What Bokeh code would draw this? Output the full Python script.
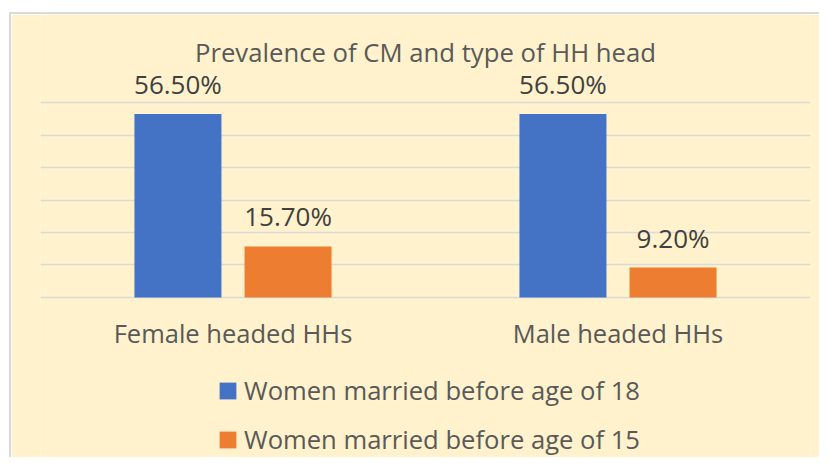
from bokeh.plotting import figure
from bokeh.models import FactorRange, Range1d, FixedTicker, ColumnDataSource, Legend, LegendItem, Label
from bokeh.transform import dodge
from bokeh.core.properties import value
from bokeh.embed import file_html
from bokeh.resources import INLINE

# ---- data ----
categories = ["Female headed HHs", "Male headed HHs"]
series_names = ["Women married before age of 18", "Women married before age of 15"]
married_before_18 = [56.5, 56.5]
married_before_15 = [15.7, 9.2]
grid_ticks = [0, 10, 20, 30, 40, 50, 60]
title_text = "Prevalence of CM and type of HH head"

BLUE = "#4472C4"
ORANGE = "#ED7D31"
BG = "#FFF2CC"
GRID = "#D9D9D9"
FONT = "Open Sans"

source = ColumnDataSource(dict(
    cat=categories,
    u18=married_before_18,
    u15=married_before_15,
    l18=[f"{v:.2f}%" for v in married_before_18],
    l15=[f"{v:.2f}%" for v in married_before_15],
))

p = figure(
    x_range=FactorRange(*categories),
    y_range=Range1d(-49.85, 87.08),
    width=810, height=445,
    output_backend="svg", toolbar_location=None,
    y_axis_location=None,
    min_border_left=29, min_border_right=11, min_border_top=0, min_border_bottom=0,
    background_fill_color=BG, border_fill_color=BG, outline_line_color=None,
)
p.styles = {"margin-left": "9px", "position": "relative", "top": "12px",
            "border-left": "2px solid #D9D9D9", "border-top": "2px solid #D9D9D9"}

# axis drawn at y = 0 inside the frame
p.xaxis.fixed_location = 0
p.xaxis.axis_line_color = None
p.xaxis.major_tick_line_color = None
p.xaxis.minor_tick_line_color = None
p.xaxis.major_label_text_font = FONT
p.xaxis.major_label_text_font_size = "25.5px"
p.xaxis.major_label_text_color = "#595959"
p.xaxis.major_label_standoff = 13

p.xgrid.grid_line_color = None
p.ygrid.ticker = FixedTicker(ticks=grid_ticks)
p.ygrid.grid_line_color = GRID
p.ygrid.grid_line_width = 1.5

r1 = p.vbar(x=dodge("cat", -0.143, range=p.x_range), top="u18", width=0.226,
            source=source, fill_color=BLUE, line_color=None)
r2 = p.vbar(x=dodge("cat", 0.143, range=p.x_range), top="u15", width=0.226,
            source=source, fill_color=ORANGE, line_color=None)

for col, lab, off in (("u18", "l18", -0.143), ("u15", "l15", 0.143)):
    p.text(x=dodge("cat", off, range=p.x_range), y=col, text=lab, source=source,
           text_align="center", text_baseline="alphabetic", y_offset=-30,
           text_font=value(FONT), text_font_size="26px", text_color="#404040")

title = Label(x=1.0, y=75.4, text=title_text, text_align="center",
              text_baseline="alphabetic", text_font=FONT, text_font_size="25.7px",
              text_color="#595959")
p.add_layout(title)

legend = Legend(
    items=[LegendItem(label=series_names[0], renderers=[r1]),
           LegendItem(label=series_names[1], renderers=[r2])],
    location=(177, 2), orientation="vertical",
    glyph_width=21, glyph_height=21, label_standoff=6,
    label_text_font=FONT, label_text_font_size="25.6px", label_text_color="#595959",
    label_height=35, spacing=14, padding=0, margin=0,
    border_line_color=None, background_fill_alpha=0,
)
p.add_layout(legend)

open("out.html", "w").write(file_html(p, INLINE))
